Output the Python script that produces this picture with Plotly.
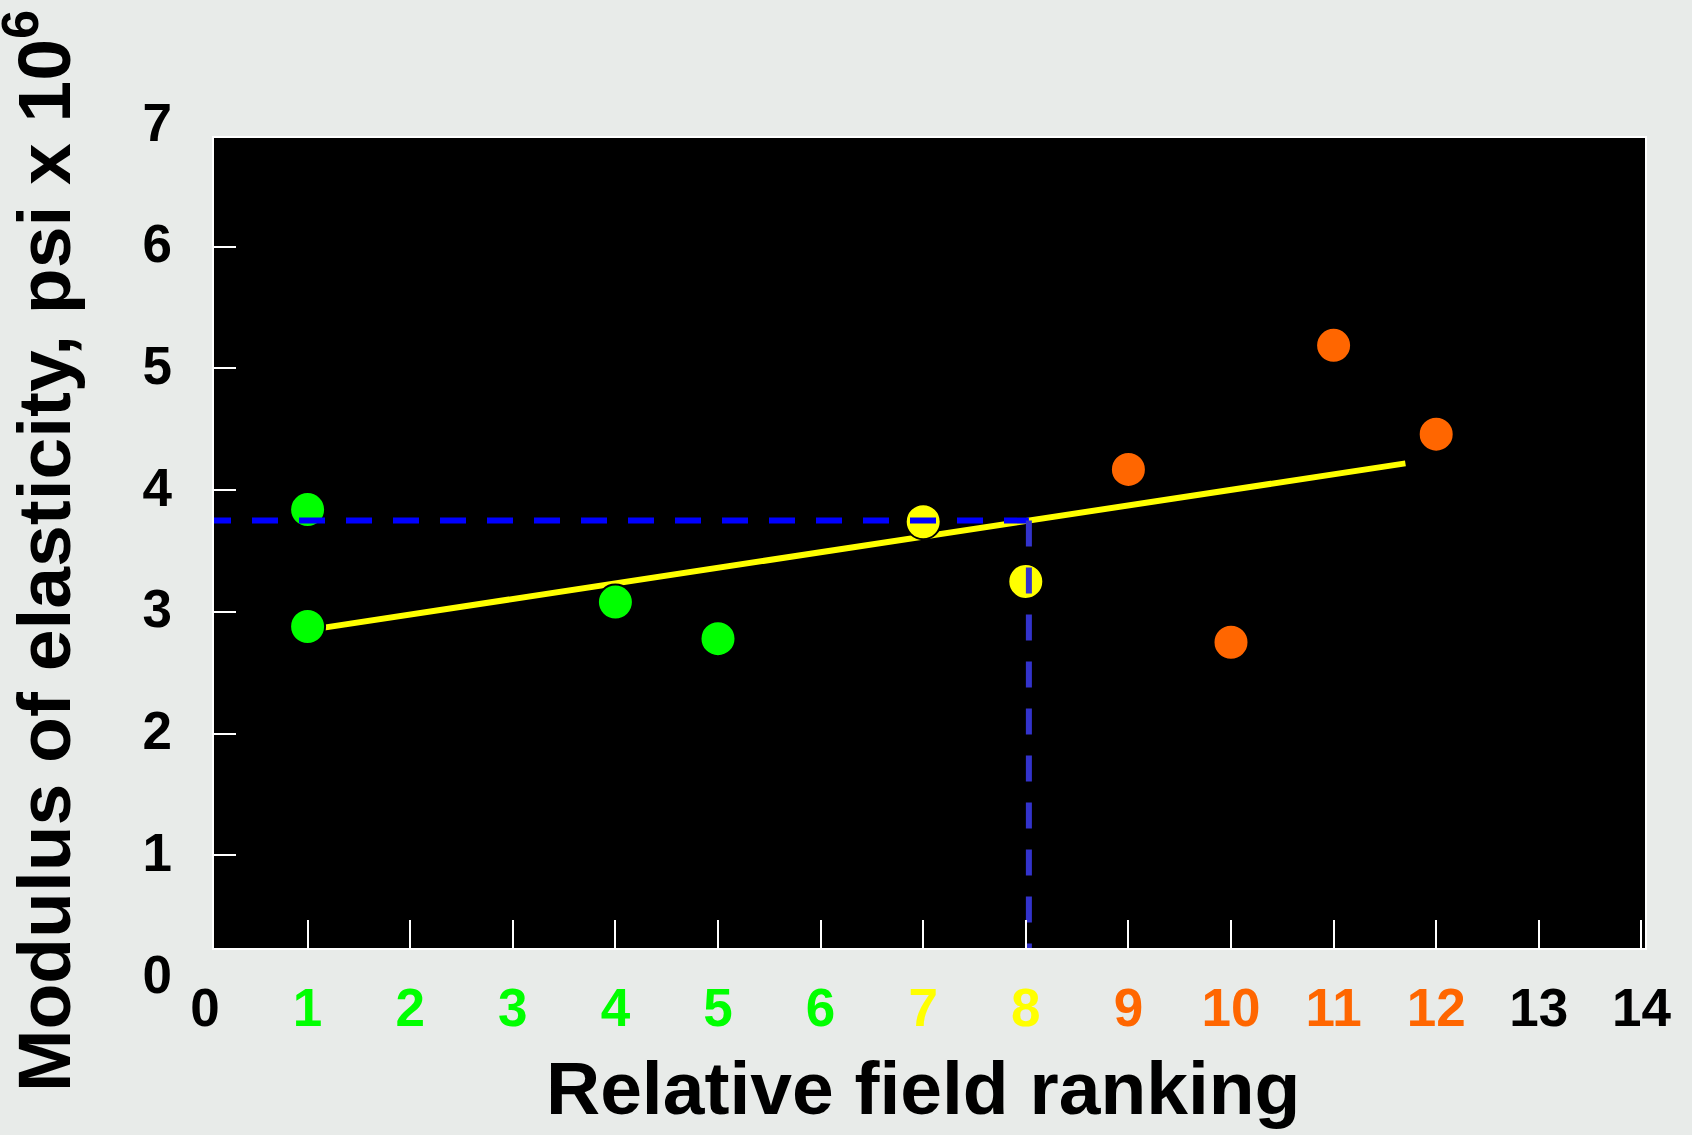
import plotly.graph_objects as go

# ---------------- data ----------------
rank = [1, 1, 4, 5, 7, 8, 9, 10, 11, 12]
modulus = [3.84, 2.88, 3.08, 2.78, 3.74, 3.25, 4.17, 2.75, 5.19, 4.46]
point_group = ["good", "good", "good", "good", "fair", "fair", "poor", "poor", "poor", "poor"]

trend_rank = [1, 11.7]
trend_modulus = [2.85, 4.22]

read_rank = 8.03
read_modulus = 3.75

x_tick_vals = list(range(0, 15))
x_tick_group = ["none"] + ["good"] * 6 + ["fair"] * 2 + ["poor"] * 4 + ["none"] * 2
y_tick_vals = list(range(0, 8))

group_color = {"good": "#00FF00", "fair": "#FFFF00", "poor": "#FF6600", "none": "#000000"}

# ---------------- geometry (pixels) ----------------
W, H = 1692, 1135
L, R, T, B = 205, 47, 125, 158
plot_w = W - L - R
plot_h = H - T - B
ux = 102.6              # px per rank unit
uy = plot_h / 7.0       # px per modulus unit
frame_left, frame_right, frame_top, frame_bottom = 214, 1645, 138, 948
y0_px = H - B
ytitle_cx, ytitle_cy = 38, 551

FONT = "Liberation Sans, Arial, sans-serif"

fig = go.Figure()

fig.add_trace(go.Scatter(
    x=trend_rank, y=trend_modulus, mode="lines",
    line=dict(color="#FFFF00", width=6), xaxis="x", yaxis="y", hoverinfo="skip"))

fig.add_trace(go.Scatter(
    x=rank, y=modulus, mode="markers",
    marker=dict(size=35, color=[group_color[g] for g in point_group],
                line=dict(color="#000000", width=2)),
    xaxis="x", yaxis="y"))

fig.add_trace(go.Scatter(
    x=[0, read_rank], y=[read_modulus, read_modulus], mode="lines",
    line=dict(color="#0000FF", width=6, dash="26px,21px"), xaxis="x", yaxis="y"))

fig.add_trace(go.Scatter(
    x=[read_rank, read_rank], y=[read_modulus, 0], mode="lines",
    line=dict(color="#3333CC", width=6, dash="26px,21px"), xaxis="x", yaxis="y"))

# empty trace so the label axes are drawn
fig.add_trace(go.Scatter(x=[], y=[], xaxis="x2", yaxis="y2"))

main_axis = dict(showline=True, linecolor="white", linewidth=2, mirror=True,
                 ticks="inside", tickcolor="white", tickwidth=2,
                 showticklabels=False, showgrid=False, zeroline=False)

x_ticktext = [f'<span style="color:{group_color[g]}">{v}</span>'
              for v, g in zip(x_tick_vals, x_tick_group)]

fig.update_layout(
    width=W, height=H,
    margin=dict(l=L, r=R, t=T, b=B),
    paper_bgcolor="#E8EBE9",
    plot_bgcolor="rgba(0,0,0,0)",
    showlegend=False,
    font=dict(family=FONT, color="black"),
    xaxis=dict(main_axis,
               domain=[(frame_left - L) / plot_w, (frame_right - L) / plot_w],
               range=[(frame_left - L) / ux, (frame_right - L) / ux],
               tickvals=x_tick_vals, ticklen=28, anchor="y"),
    yaxis=dict(main_axis,
               domain=[(y0_px - frame_bottom) / plot_h, (y0_px - frame_top) / plot_h],
               range=[(y0_px - frame_bottom) / uy, (y0_px - frame_top) / uy],
               tickvals=y_tick_vals, ticklen=22, anchor="x"),
    xaxis2=dict(domain=[0, 14 * ux / plot_w], range=[0, 14], anchor="y2",
                showline=False, showgrid=False, zeroline=False, ticks="",
                tickvals=x_tick_vals, ticktext=x_ticktext,
                tickfont=dict(size=53, family=FONT, weight="bold"),
                ticklabelstandoff=-5,
                title=dict(text="Relative field ranking",
                           font=dict(size=75, family=FONT, weight="bold", color="black"),
                           standoff=25)),
    yaxis2=dict(domain=[0, 1], range=[0, 7], anchor="x2",
                showline=False, showgrid=False, zeroline=False, ticks="",
                tickvals=y_tick_vals,
                tickfont=dict(size=53, family=FONT, weight="bold", color="black"),
                ticklabelstandoff=32, ticklabelshift=-3),
    annotations=[dict(text="<b>Modulus of elasticity, psi x 10<sup>6</sup></b>",
                      xref="paper", yref="paper",
                      x=(ytitle_cx - L) / plot_w, y=(y0_px - ytitle_cy) / plot_h,
                      xanchor="center", yanchor="middle", textangle=-90,
                      showarrow=False,
                      font=dict(size=75, family=FONT, color="black"))],
    shapes=[dict(type="rect", xref="x domain", yref="y domain", x0=0, x1=1, y0=0, y1=1,
                 fillcolor="black", line=dict(width=0), layer="below")],
)

fig.write_html("out.html", config={"displayModeBar": False},
               post_script="document.body.style.margin='0';")
